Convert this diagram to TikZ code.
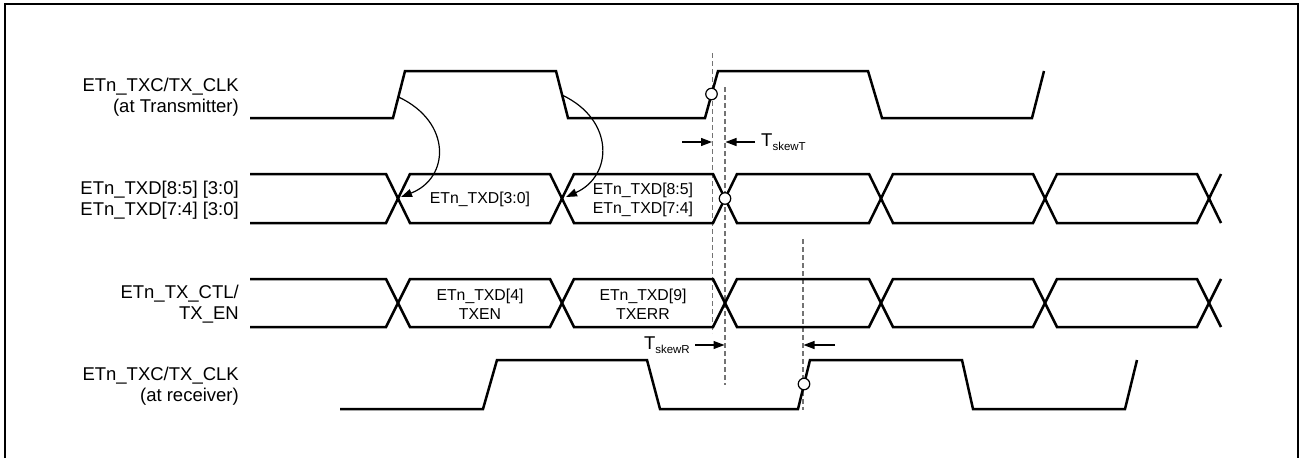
\documentclass[tikz,border=0pt]{standalone}
\usepackage{fontspec}
\setmainfont{Liberation Sans}
\usetikzlibrary{arrows.meta}
\begin{document}
\begin{tikzpicture}[x=1pt,y=-1pt,
  sig/.style={line width=2.5pt, line join=miter},
  guide/.style={draw=black!55, line width=1.2pt, dash pattern=on 5pt off 3pt},
  thinarrow/.style={line width=1.2pt, -{Triangle[length=11pt,width=8pt]}},
  probe/.style={circle, draw, fill=white, line width=1.2pt, minimum size=11.5pt, inner sep=0pt},
  lbl/.style={font=\fontsize{18.5}{21.5}\selectfont, align=right, anchor=east, inner sep=0pt},
  inlbl/.style={font=\fontsize{15.8}{19}\selectfont, align=center, inner sep=0pt},
  skewlbl/.style={font=\fontsize{18.5}{21.5}\selectfont, inner sep=0pt},
]
\useasboundingbox (0,0) rectangle (1301,458);
% frame
\draw[line width=2.2pt] (5,458) -- (5,4) -- (1298,4) -- (1298,458);

% left labels
\node[lbl] (l1) at (239,97) {ETn\_TXC/TX\_CLK\\(at Transmitter)};
\node[lbl] (l2) at (239,200) {ETn\_TXD[8:5] [3:0]\\ETn\_TXD[7:4] [3:0]};
\node[lbl] (l3) at (239,304) {ETn\_TX\_CTL/\\TX\_EN};
\node[lbl] (l4) at (239,386) {ETn\_TXC/TX\_CLK\\(at receiver)};

% dashed guides
\draw[guide] (712.5,53) -- (712.5,333);
\draw[guide] (725,87) -- (725,385);
\draw[guide] (803,239) -- (803,410);

% transmitter clock
\draw[sig] (250,118) -- (393,118) -- (405,71) -- (556,71) -- (568,118) -- (705,118) -- (718,71) -- (868,71) -- (882,118) -- (1032,118) -- (1044,71);

% TXD bus
\draw[sig] (250,174) -- (386,174) -- (410,223) -- (550,223) -- (574,174) -- (713,174) -- (737,223) -- (869,223) -- (893,174) -- (1033,174) -- (1057,223) -- (1197,223) -- (1221,174);
\draw[sig] (250,223) -- (386,223) -- (410,174) -- (550,174) -- (574,223) -- (713,223) -- (737,174) -- (869,174) -- (893,223) -- (1033,223) -- (1057,174) -- (1197,174) -- (1221,223);

% CTL bus
\draw[sig] (250,279) -- (386,279) -- (410,327) -- (550,327) -- (574,279) -- (713,279) -- (737,327) -- (869,327) -- (893,279) -- (1033,279) -- (1057,327) -- (1197,327) -- (1221,279);
\draw[sig] (250,327) -- (386,327) -- (410,279) -- (550,279) -- (574,327) -- (713,327) -- (737,279) -- (869,279) -- (893,327) -- (1033,327) -- (1057,279) -- (1197,279) -- (1221,327);

% receiver clock
\draw[sig] (340,409) -- (483,409) -- (497,360) -- (647,360) -- (660,409) -- (798,409) -- (810,360) -- (962,360) -- (973,409) -- (1125,409) -- (1137,360);

% bus labels
\node[inlbl] (d1) at (480,199) {ETn\_TXD[3:0]};
\node[inlbl] (d2) at (643,200) {ETn\_TXD[8:5]\\ETn\_TXD[7:4]};
\node[inlbl] (c1) at (480,304) {ETn\_TXD[4]\\TXEN};
\node[inlbl] (c2) at (643,304) {ETn\_TXD[9]\\TXERR};

% launch arrows
\coordinate (e1) at (398.5,97);
\coordinate (x1) at (401,197);
\coordinate (e2) at (562,95);
\coordinate (x2) at (566,197);
\draw[thinarrow] (e1) .. controls (452,122) and (450,178) .. (x1);
\draw[thinarrow] (e2) .. controls (615,120) and (613,176) .. (x2);

% probes
\node[probe] (p1) at (711.5,94) {};
\node[probe] (p2) at (725,198.5) {};
\node[probe] (p3) at (804,384) {};

% skew T
\coordinate (sa0) at (682,142);
\coordinate (sa1) at (712,142);
\coordinate (sb0) at (755,142);
\coordinate (sb1) at (725.5,142);
\draw[thinarrow] (sa0) -- (sa1);
\draw[thinarrow] (sb0) -- (sb1);
\node[skewlbl, anchor=west] (tsT) at (761,142) {T{\fontsize{11.5}{12}\selectfont\raisebox{-4pt}{skewT}}};

% skew R
\coordinate (ra0) at (695,345);
\coordinate (ra1) at (724.5,345);
\coordinate (rb0) at (835,345);
\coordinate (rb1) at (803.5,345);
\draw[thinarrow] (ra0) -- (ra1);
\draw[thinarrow] (rb0) -- (rb1);
\node[skewlbl, anchor=east] (tsR) at (690,345) {T{\fontsize{11.5}{12}\selectfont\raisebox{-4pt}{skewR}}};
\end{tikzpicture}
\end{document}
